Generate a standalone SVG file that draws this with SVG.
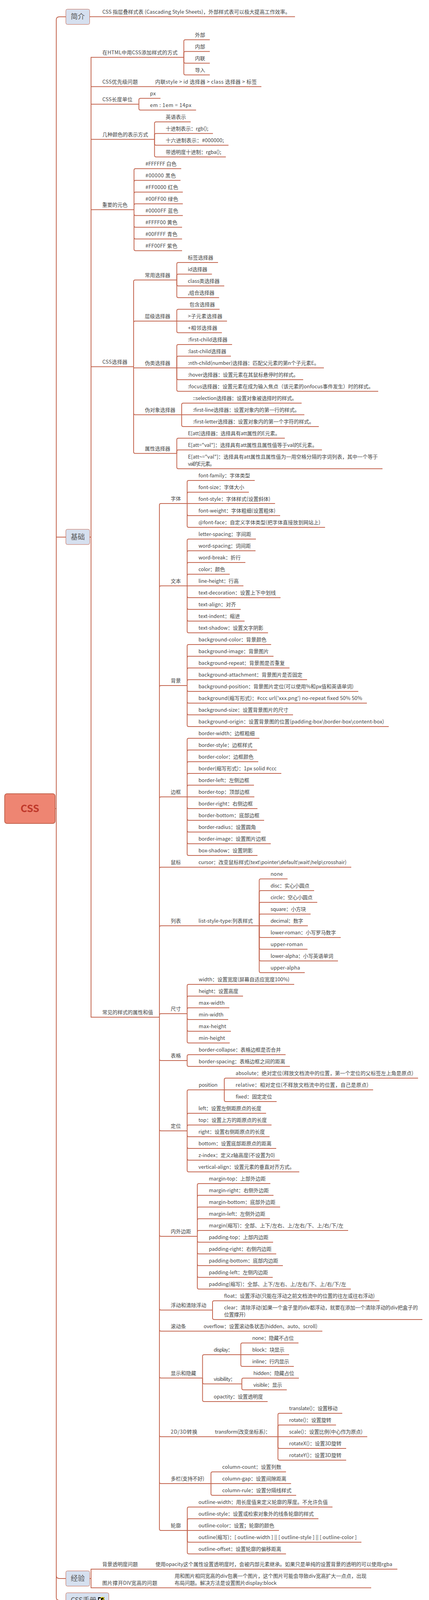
<svg xmlns="http://www.w3.org/2000/svg" width="1098" height="4133" viewBox="0 0 1098 4133">
<style>
text{font-family:"Noto Sans CJK SC","Noto Sans",sans-serif;font-size:13px;fill:#444}
.box{fill:#d6e0ef;stroke:#c3654f;stroke-width:1}
.big{font-size:18px;fill:#555}
#connectors path{fill:none;stroke:#c3654f;stroke-width:2}
</style>
<rect width="1098" height="4133" fill="#fff"/>
<g id="connectors">
<path d="M141 2070H144"/>
<path d="M144 2070V51Q144 43 152 43H168"/>
<path d="M144 2070V1375H168"/>
<path d="M144 2070V4033Q144 4041 152 4041H168"/>
<path d="M144 2070V4089Q144 4097 152 4097H168"/>
<path d="M229.5 42.7H755"/>
<path d="M229.5 1375H233"/>
<path d="M233 1375V146.7H470"/>
<path d="M233 1375V221.7H669"/>
<path d="M233 1375V266.7H355.5"/>
<path d="M233 1375V356.7H395.5"/>
<path d="M233 1375V536.7H343"/>
<path d="M233 1375V938.7H342"/>
<path d="M233 1375V2604H408"/>
<path d="M470.5 146.7V105.7Q470.5 101.7 474.5 101.7H537"/>
<path d="M470.5 146.7V135.7Q470.5 131.7 474.5 131.7H537"/>
<path d="M470.5 146.7V157.7Q470.5 161.7 474.5 161.7H537"/>
<path d="M470.5 146.7V187.7Q470.5 191.7 474.5 191.7H537"/>
<path d="M355.5 266.7V255.7Q355.5 251.7 359.5 251.7H410.7"/>
<path d="M355.5 266.7V277.7Q355.5 281.7 359.5 281.7H501.8"/>
<path d="M395.5 356.7V316Q395.5 312 399.5 312H488"/>
<path d="M395.5 356.7V345.7Q395.5 341.7 399.5 341.7H545"/>
<path d="M395.5 356.7V367.7Q395.5 371.7 399.5 371.7H584.8"/>
<path d="M395.5 356.7V397.7Q395.5 401.7 399.5 401.7H578"/>
<path d="M343 536.7V435.7Q343 431.7 347 431.7H463.8"/>
<path d="M343 536.7V465.7Q343 461.7 347 461.7H462"/>
<path d="M343 536.7V495.7Q343 491.7 347 491.7H467.9"/>
<path d="M343 536.7V525.7Q343 521.7 347 521.7H467.9"/>
<path d="M343 536.7V547.7Q343 551.7 347 551.7H467.9"/>
<path d="M343 536.7V577.7Q343 581.7 347 581.7H466"/>
<path d="M343 536.7V607.7Q343 611.7 347 611.7H466"/>
<path d="M343 536.7V637.7Q343 641.7 347 641.7H466"/>
<path d="M342 938.7V720.7Q342 716.7 346 716.7H452.5"/>
<path d="M342 938.7V826Q342 822 346 822H452.5"/>
<path d="M342 938.7V941.7H452.5"/>
<path d="M342 938.7V1057.7Q342 1061.7 346 1061.7H465"/>
<path d="M342 938.7V1156.7Q342 1160.7 346 1160.7H452.5"/>
<path d="M452.5 716.7V676Q452.5 672 456.5 672H558"/>
<path d="M452.5 716.7V705.7Q452.5 701.7 456.5 701.7H542.5"/>
<path d="M452.5 716.7V728Q452.5 732 456.5 732H574"/>
<path d="M452.5 716.7V758Q452.5 762 456.5 762H560.8"/>
<path d="M452.5 822V795.7Q452.5 791.7 456.5 791.7H562"/>
<path d="M452.5 822H581"/>
<path d="M452.5 822V847.7Q452.5 851.7 456.5 851.7H568"/>
<path d="M452.5 941.7V886Q452.5 882 456.5 882H594"/>
<path d="M452.5 941.7V915.7Q452.5 911.7 456.5 911.7H591"/>
<path d="M452.5 941.7H829"/>
<path d="M452.5 941.7V968Q452.5 972 456.5 972H776"/>
<path d="M452.5 941.7V997.7Q452.5 1001.7 456.5 1001.7H968"/>
<path d="M465 1061.7V1036Q465 1032 469 1032H772"/>
<path d="M465 1061.7H779"/>
<path d="M465 1061.7V1088Q465 1092 469 1092H816"/>
<path d="M452.5 1160.7V1125.7Q452.5 1121.7 456.5 1121.7H729"/>
<path d="M452.5 1160.7V1155.7Q452.5 1151.7 456.5 1151.7H824"/>
<path d="M452.5 1160.7V1196Q452.5 1200 456.5 1200H979"/>
<path d="M408 2604V1293Q408 1289 412 1289H479"/>
<path d="M408 2604V1503.7Q408 1499.7 412 1499.7H479"/>
<path d="M408 2604V1759Q408 1755 412 1755H479"/>
<path d="M408 2604V2044Q408 2040 412 2040H479"/>
<path d="M408 2604V2224Q408 2220 412 2220H899"/>
<path d="M408 2604V2374Q408 2370 412 2370H663.5"/>
<path d="M408 2604V2599Q408 2595 412 2595H479"/>
<path d="M408 2604V2711Q408 2715 412 2715H479"/>
<path d="M408 2604V2891Q408 2895 412 2895H479"/>
<path d="M408 2604V3161Q408 3165 412 3165H505"/>
<path d="M408 2604V3349.7Q408 3353.7 412 3353.7H544"/>
<path d="M408 2604V3403.7Q408 3407.7 412 3407.7H825"/>
<path d="M408 2604V3523.7Q408 3527.7 412 3527.7H518.4"/>
<path d="M408 2604V3674Q408 3678 412 3678H711.4"/>
<path d="M408 2604V3794Q408 3798 412 3798H540"/>
<path d="M408 2604V3914Q408 3918 412 3918H479.4"/>
<path d="M479 1289V1234Q479 1230 483 1230H652"/>
<path d="M479 1289V1264Q479 1260 483 1260H637"/>
<path d="M479 1289H704"/>
<path d="M479 1289V1316Q479 1320 483 1320H717"/>
<path d="M479 1289V1346Q479 1350 483 1350H832"/>
<path d="M479 1499.7V1384Q479 1380 483 1380H655"/>
<path d="M479 1499.7V1414Q479 1410 483 1410H654"/>
<path d="M479 1499.7V1444Q479 1440 483 1440H628"/>
<path d="M479 1499.7V1474Q479 1470 483 1470H588"/>
<path d="M479 1499.7H623"/>
<path d="M479 1499.7V1526Q479 1530 483 1530H718"/>
<path d="M479 1499.7V1556Q479 1560 483 1560H616"/>
<path d="M479 1499.7V1586Q479 1590 483 1590H626"/>
<path d="M479 1499.7V1616Q479 1620 483 1620H686"/>
<path d="M479 1755V1654Q479 1650 483 1650H694"/>
<path d="M479 1755V1684Q479 1680 483 1680H700"/>
<path d="M479 1755V1714Q479 1710 483 1710H741"/>
<path d="M479 1755V1744Q479 1740 483 1740H786"/>
<path d="M479 1755V1766Q479 1770 483 1770H917"/>
<path d="M479 1755V1796Q479 1800 483 1800H939"/>
<path d="M479 1755V1826Q479 1830 483 1830H750"/>
<path d="M479 1755V1856Q479 1860 483 1860H995"/>
<path d="M479 2040V1894Q479 1890 483 1890H664"/>
<path d="M479 2040V1924Q479 1920 483 1920H658"/>
<path d="M479 2040V1954Q479 1950 483 1950H661"/>
<path d="M479 2040V1984Q479 1980 483 1980H720"/>
<path d="M479 2040V2014Q479 2010 483 2010H650"/>
<path d="M479 2040H651"/>
<path d="M479 2040V2066Q479 2070 483 2070H659"/>
<path d="M479 2040V2096Q479 2100 483 2100H676"/>
<path d="M479 2040V2126Q479 2130 483 2130H667"/>
<path d="M479 2040V2156Q479 2160 483 2160H693"/>
<path d="M479 2040V2186Q479 2190 483 2190H659"/>
<path d="M663.5 2370V2254Q663.5 2250 667.5 2250H736"/>
<path d="M663.5 2370V2284Q663.5 2280 667.5 2280H804"/>
<path d="M663.5 2370V2314Q663.5 2310 667.5 2310H812"/>
<path d="M663.5 2370V2344Q663.5 2340 667.5 2340H795"/>
<path d="M663.5 2370H788"/>
<path d="M663.5 2370V2396Q663.5 2400 667.5 2400H872"/>
<path d="M663.5 2370V2426Q663.5 2430 667.5 2430H787"/>
<path d="M663.5 2370V2456Q663.5 2460 667.5 2460H865"/>
<path d="M663.5 2370V2486Q663.5 2490 667.5 2490H780"/>
<path d="M479 2595V2524Q479 2520 483 2520H753"/>
<path d="M479 2595V2554Q479 2550 483 2550H622"/>
<path d="M479 2595V2584Q479 2580 483 2580H587"/>
<path d="M479 2595V2606Q479 2610 483 2610H584"/>
<path d="M479 2595V2636Q479 2640 483 2640H591"/>
<path d="M479 2595V2666Q479 2670 483 2670H588"/>
<path d="M479 2715V2704Q479 2700 483 2700H731"/>
<path d="M479 2715V2726Q479 2730 483 2730H742"/>
<path d="M479 2895V2794Q479 2790 483 2790H574"/>
<path d="M479 2895V2854Q479 2850 483 2850H681"/>
<path d="M479 2895V2884Q479 2880 483 2880H695"/>
<path d="M479 2895V2906Q479 2910 483 2910H690"/>
<path d="M479 2895V2936Q479 2940 483 2940H707"/>
<path d="M479 2895V2966Q479 2970 483 2970H716"/>
<path d="M479 2895V2996Q479 3000 483 3000H766"/>
<path d="M574 2790V2764Q574 2760 578 2760H1070"/>
<path d="M574 2790H955"/>
<path d="M574 2790V2816Q574 2820 578 2820H708"/>
<path d="M505 3165V3034Q505 3030 509 3030H692"/>
<path d="M505 3165V3064Q505 3060 509 3060H700"/>
<path d="M505 3165V3094Q505 3090 509 3090H717"/>
<path d="M505 3165V3124Q505 3120 509 3120H691"/>
<path d="M505 3165V3154Q505 3150 509 3150H891"/>
<path d="M505 3165V3176Q505 3180 509 3180H699"/>
<path d="M505 3165V3206Q505 3210 509 3210H707"/>
<path d="M505 3165V3236Q505 3240 509 3240H724"/>
<path d="M505 3165V3266Q505 3270 509 3270H698"/>
<path d="M505 3165V3296Q505 3300 509 3300H898"/>
<path d="M544 3353.7V3334Q544 3330 548 3330H971"/>
<path d="M544 3353.7V3374Q544 3378 548 3378H1081"/>
<path d="M518.4 3527.7V3472Q518.4 3468 522.4 3468H616.4"/>
<path d="M518.4 3527.7V3538.7Q518.4 3542.7 522.4 3542.7H619"/>
<path d="M518.4 3527.7V3584Q518.4 3588 522.4 3588H685"/>
<path d="M616.4 3468V3442Q616.4 3438 620.4 3438H764"/>
<path d="M616.4 3468H740"/>
<path d="M616.4 3468V3494Q616.4 3498 620.4 3498H752"/>
<path d="M619 3542.7V3532Q619 3528 623 3528H765"/>
<path d="M619 3542.7V3554Q619 3558 623 3558H734"/>
<path d="M711.4 3678V3622Q711.4 3618 715.4 3618H876"/>
<path d="M711.4 3678V3652Q711.4 3648 715.4 3648H860"/>
<path d="M711.4 3678H940"/>
<path d="M711.4 3678V3704Q711.4 3708 715.4 3708H886"/>
<path d="M711.4 3678V3734Q711.4 3738 715.4 3738H886"/>
<path d="M540 3798V3772Q540 3768 544 3768H732"/>
<path d="M540 3798H745"/>
<path d="M540 3798V3824Q540 3828 544 3828H758"/>
<path d="M479.4 3918V3862Q479.4 3858 483.4 3858H851"/>
<path d="M479.4 3918V3892Q479.4 3888 483.4 3888H815"/>
<path d="M479.4 3918H714"/>
<path d="M479.4 3918V3944Q479.4 3948 483.4 3948H925"/>
<path d="M479.4 3918V3974Q479.4 3978 483.4 3978H732"/>
<path d="M230 4041H233"/>
<path d="M233 4041V4017H1017"/>
<path d="M233 4041V4064.7H950"/>
</g>
<g id="root"><rect x="12" y="2032" width="129" height="76" rx="6" fill="#ee8572" stroke="#c3654f" stroke-width="2"/><text x="76.5" y="2079" text-anchor="middle" style="font-size:26px;font-weight:700;fill:#c0392b">CSS</text></g>
<g id="intro"><rect class="box" x="168.5" y="23.5" width="61" height="39" rx="4"/><text class="big" x="181" y="49">简介</text></g>
<g id="basic"><rect class="box" x="168.5" y="1355" width="61" height="39" rx="4"/><text class="big" x="181" y="1381">基础</text></g>
<g id="exp"><rect class="box" x="168.5" y="4021.5" width="61" height="39" rx="4"/><text class="big" x="181" y="4047">经验</text></g>
<g id="manual"><rect class="box" x="168.5" y="4077.5" width="110" height="39" rx="4"/><text class="big" x="181" y="4103" textLength="66">CSS手册</text><rect x="251" y="4089" width="16" height="15" fill="#000"/><rect x="253" y="4092" width="5" height="10" fill="#fff"/><path d="M258 4092a4 3.5 0 1 1 4 4v2M262 4100v2" fill="none" stroke="#f5e020" stroke-width="2"/></g>
<g id="n1"><text x="262" y="34.7" textLength="481">CSS 指层叠样式表 (Cascading Style Sheets)，外部样式表可以极大提高工作效率。</text></g>
<g id="n2"><text x="262" y="138.7" textLength="192.5">在HTML中用CSS添加样式的方式</text></g>
<g id="n2a"><text x="499" y="93.7">外部</text></g>
<g id="n2b"><text x="499" y="123.7">内部</text></g>
<g id="n2c"><text x="499" y="153.7">内联</text></g>
<g id="n2d"><text x="499" y="183.7">导入</text></g>
<g id="n3"><text x="262" y="213.7" textLength="90.7">CSS优先级问题</text></g>
<g id="n3a"><text x="397.3" y="213.7" textLength="260">内联style &gt; id 选择器 &gt; class 选择器 &gt; 标签</text></g>
<g id="n4"><text x="262" y="258.7" textLength="77">CSS长度单位</text></g>
<g id="n4a"><text x="384" y="243.7" textLength="14.7">px</text></g>
<g id="n4b"><text x="384" y="273.7" textLength="105.8">em : 1em = 14px</text></g>
<g id="n5"><text x="262" y="348.7">几种颜色的表示方式</text></g>
<g id="n5a"><text x="424" y="304">英语表示</text></g>
<g id="n5b"><text x="424" y="333.7" textLength="109">十进制表示：rgb();</text></g>
<g id="n5c"><text x="424" y="363.7" textLength="148.8">十六进制表示：#000000;</text></g>
<g id="n5d"><text x="424" y="393.7" textLength="142">带透明度十进制：rgba();</text></g>
<g id="n6"><text x="261.6" y="528.7">重要的元色</text></g>
<g id="n6a"><text x="372.3" y="423.7" textLength="79.5">#FFFFFF 白色</text></g>
<g id="n6b"><text x="372.3" y="453.7" textLength="77.7">#00000 黑色</text></g>
<g id="n6c"><text x="372.3" y="483.7" textLength="83.6">#FF0000 红色</text></g>
<g id="n6d"><text x="372.3" y="513.7" textLength="83.6">#00FF00 绿色</text></g>
<g id="n6e"><text x="372.3" y="543.7" textLength="83.6">#0000FF 蓝色</text></g>
<g id="n6f"><text x="372.3" y="573.7" textLength="81.7">#FFFF00 黄色</text></g>
<g id="n6g"><text x="372.3" y="603.7" textLength="81.7">#00FFFF 青色</text></g>
<g id="n6h"><text x="372.3" y="633.7" textLength="81.7">#FF00FF 紫色</text></g>
<g id="n7"><text x="262" y="930.7" textLength="64">CSS选择器</text></g>
<g id="n71"><text x="370.7" y="708.7">常用选择器</text></g>
<g id="n71a"><text x="480.8" y="664">标签选择器</text></g>
<g id="n71b"><text x="480.8" y="693.7" textLength="49.7">id选择器</text></g>
<g id="n71c"><text x="480.8" y="724" textLength="81.2">class类选择器</text></g>
<g id="n71d"><text x="480.8" y="754" textLength="68">,组合选择器</text></g>
<g id="n72"><text x="370.7" y="814">层级选择器</text></g>
<g id="n72a"><text x="485" y="783.7">包含选择器</text></g>
<g id="n72b"><text x="481" y="813.7" textLength="87.9">&gt;子元素选择器</text></g>
<g id="n72c"><text x="481" y="843.7" textLength="75">+相邻选择器</text></g>
<g id="n73"><text x="370.7" y="933.7">伪类选择器</text></g>
<g id="n73a"><text x="481" y="874" textLength="101">:first-child选择器</text></g>
<g id="n73b"><text x="481" y="903.7" textLength="98">:last-child选择器</text></g>
<g id="n73c"><text x="481" y="933.7" textLength="335.9">:nth-child(number)选择器：匹配父元素的第n个子元素E。</text></g>
<g id="n73d"><text x="481" y="964" textLength="283">:hover选择器：设置元素在其鼠标悬停时的样式。</text></g>
<g id="n73e"><text x="481" y="993.7" textLength="475">:focus选择器：设置元素在成为输入焦点（该元素的onfocus事件发生）时的样式。</text></g>
<g id="n74"><text x="370.7" y="1053.7">伪对象选择器</text></g>
<g id="n74a"><text x="493.8" y="1024" textLength="266.2">::selection选择器：设置对象被选择时的样式。</text></g>
<g id="n74b"><text x="493.8" y="1053.7" textLength="273.2">:first-line选择器：设置对象内的第一行的样式。</text></g>
<g id="n74c"><text x="493.8" y="1084" textLength="310.2">:first-letter选择器：设置对象内的第一个字符的样式。</text></g>
<g id="n75"><text x="370.7" y="1152.7">属性选择器</text></g>
<g id="n75a"><text x="481" y="1113.7" textLength="236">E[att]选择器：选择具有att属性的E元素。</text></g>
<g id="n75b"><text x="481" y="1143.7" textLength="331">E[att="val"]：选择具有att属性且属性值等于val的E元素。</text></g>
<g id="n75c"><text x="481" y="1174" textLength="486">E[att~="val"]：选择具有att属性且属性值为一用空格分隔的字词列表，其中一个等于</text><text x="481" y="1192" textLength="69">val的E元素。</text></g>
<g id="n8"><text x="261.7" y="2596">常见的样式的属性和值</text></g>
<g id="font"><text x="437" y="1281">字体</text></g>
<g id="font1"><text x="508" y="1222" textLength="132">font-family：字体类型</text></g>
<g id="font2"><text x="508" y="1252" textLength="117">font-size：字体大小</text></g>
<g id="font3"><text x="508" y="1282" textLength="184">font-style：字体样式(设置斜体)</text></g>
<g id="font4"><text x="508" y="1312" textLength="197">font-weight：字体粗细(设置粗体)</text></g>
<g id="font5"><text x="508" y="1342" textLength="312">@font-face：自定义字体类型(把字体直接放到网站上)</text></g>
<g id="txt"><text x="437" y="1491.7">文本</text></g>
<g id="txt1"><text x="508" y="1372" textLength="135">letter-spacing：字间距</text></g>
<g id="txt2"><text x="508" y="1402" textLength="134">word-spacing：词间距</text></g>
<g id="txt3"><text x="508" y="1432" textLength="108">word-break：折行</text></g>
<g id="txt4"><text x="508" y="1462" textLength="68">color：颜色</text></g>
<g id="txt5"><text x="508" y="1492" textLength="103">line-height：行高</text></g>
<g id="txt6"><text x="508" y="1522" textLength="198">text-decoration：设置上下中划线</text></g>
<g id="txt7"><text x="508" y="1552" textLength="96">text-align：对齐</text></g>
<g id="txt8"><text x="508" y="1582" textLength="106">text-indent：缩进</text></g>
<g id="txt9"><text x="508" y="1612" textLength="166">text-shadow：设置文字阴影</text></g>
<g id="bg"><text x="437" y="1747">背景</text></g>
<g id="bg1"><text x="508" y="1642" textLength="174">background-color：背景颜色</text></g>
<g id="bg2"><text x="508" y="1672" textLength="180">background-image：背景图片</text></g>
<g id="bg3"><text x="508" y="1702" textLength="221">background-repeat：背景图是否重复</text></g>
<g id="bg4"><text x="508" y="1732" textLength="266">background-attachment：背景图片是否固定</text></g>
<g id="bg5"><text x="508" y="1762" textLength="397">background-position：背景图片定位(可以使用%和px值和英语单词)</text></g>
<g id="bg6"><text x="508" y="1792" textLength="419">background(缩写形式)：#ccc url('xxx.png') no-repeat fixed 50% 50%</text></g>
<g id="bg7"><text x="508" y="1822" textLength="230">background-size：设置背景图片的尺寸</text></g>
<g id="bg8"><text x="508" y="1852" textLength="475">background-origin：设置背景图的位置(padding-box\border-box\content-box)</text></g>
<g id="bd"><text x="437" y="2032">边框</text></g>
<g id="bd1"><text x="508" y="1882" textLength="144">border-width：边框粗细</text></g>
<g id="bd2"><text x="508" y="1912" textLength="138">border-style：边框样式</text></g>
<g id="bd3"><text x="508" y="1942" textLength="141">border-color：边框颜色</text></g>
<g id="bd4"><text x="508" y="1972" textLength="200">border(缩写形式)：1px solid #ccc</text></g>
<g id="bd5"><text x="508" y="2002" textLength="130">border-left：左侧边框</text></g>
<g id="bd6"><text x="508" y="2032" textLength="131">border-top：顶部边框</text></g>
<g id="bd7"><text x="508" y="2062" textLength="139">border-right：右侧边框</text></g>
<g id="bd8"><text x="508" y="2092" textLength="156">border-bottom：底部边框</text></g>
<g id="bd9"><text x="508" y="2122" textLength="147">border-radius：设置圆角</text></g>
<g id="bd10"><text x="508" y="2152" textLength="173">border-image：设置图片边框</text></g>
<g id="bd11"><text x="508" y="2182" textLength="139">box-shadow：设置阴影</text></g>
<g id="ms"><text x="437" y="2212">鼠标</text></g>
<g id="ms1"><text x="508" y="2212" textLength="379">cursor：改变鼠标样式(text\pointer\default\wait\help\crosshair)</text></g>
<g id="li"><text x="437" y="2362">列表</text></g>
<g id="li0"><text x="508" y="2362" textLength="139">list-style-type:列表样式</text></g>
<g id="li1"><text x="692.5" y="2242" textLength="31.5">none</text></g>
<g id="li2"><text x="692.5" y="2272" textLength="99.5">disc：实心小圆点</text></g>
<g id="li3"><text x="692.5" y="2302" textLength="107.5">circle：空心小圆点</text></g>
<g id="li4"><text x="692.5" y="2332" textLength="90.5">square：小方块</text></g>
<g id="li5"><text x="692.5" y="2362" textLength="83.5">decimal：数字</text></g>
<g id="li6"><text x="692.5" y="2392" textLength="167.5">lower-roman：小写罗马数字</text></g>
<g id="li7"><text x="692.5" y="2422" textLength="82.5">upper-roman</text></g>
<g id="li8"><text x="692.5" y="2452" textLength="160.5">lower-alpha：小写英语单词</text></g>
<g id="li9"><text x="692.5" y="2482" textLength="75.5">upper-alpha</text></g>
<g id="sz"><text x="437" y="2587">尺寸</text></g>
<g id="sz1"><text x="508.6" y="2512" textLength="232.4">width：设置宽度(屏幕自适应宽度100%)</text></g>
<g id="sz2"><text x="508.6" y="2542" textLength="101.4">height：设置高度</text></g>
<g id="sz3"><text x="508.6" y="2572" textLength="66.4">max-width</text></g>
<g id="sz4"><text x="508.6" y="2602" textLength="63.4">min-width</text></g>
<g id="sz5"><text x="508.6" y="2632" textLength="70.4">max-height</text></g>
<g id="sz6"><text x="508.6" y="2662" textLength="67.4">min-height</text></g>
<g id="tb"><text x="437" y="2707">表格</text></g>
<g id="tb1"><text x="508.6" y="2692" textLength="210.4">border-collapse：表格边框是否合并</text></g>
<g id="tb2"><text x="508.6" y="2722" textLength="221.4">border-spacing：表格边框之间的距离</text></g>
<g id="pos"><text x="437" y="2887">定位</text></g>
<g id="pos0"><text x="508.6" y="2782" textLength="48">position</text></g>
<g id="pos0a"><text x="603" y="2752" textLength="455">absolute：绝对定位(释放文档流中的位置，第一个定位的父标签左上角是原点)</text></g>
<g id="pos0b"><text x="603" y="2782" textLength="340">relative：相对定位(不释放文档流中的位置，自己是原点)</text></g>
<g id="pos0c"><text x="603" y="2812" textLength="93">fixed：固定定位</text></g>
<g id="pos1"><text x="508" y="2842" textLength="161">left：设置左侧距原点的长度</text></g>
<g id="pos2"><text x="508" y="2872" textLength="175">top：设置上方的距原点的长度</text></g>
<g id="pos3"><text x="508" y="2902" textLength="170">right：设置右侧距原点的长度</text></g>
<g id="pos4"><text x="508" y="2932" textLength="187">bottom：设置底部距原点的距离</text></g>
<g id="pos5"><text x="508" y="2962" textLength="196">z-index：定义z轴高度(不设置为0)</text></g>
<g id="pos6"><text x="508" y="2992" textLength="246">vertical-align：设置元素的垂直对齐方式。</text></g>
<g id="mp"><text x="437" y="3157">内外边距</text></g>
<g id="mp1"><text x="534.5" y="3022" textLength="145.5">margin-top：上部外边距</text></g>
<g id="mp2"><text x="534.5" y="3052" textLength="153.5">margin-right：右侧外边距</text></g>
<g id="mp3"><text x="534.5" y="3082" textLength="170.5">margin-bottom：底部外边距</text></g>
<g id="mp4"><text x="534.5" y="3112" textLength="144.5">margin-left：左侧外边距</text></g>
<g id="mp5"><text x="534.5" y="3142" textLength="344.5">margin(缩写)：全部、上下/左右、上/左右/下、上/右/下/左</text></g>
<g id="mp6"><text x="534.5" y="3172" textLength="152.5">padding-top：上部内边距</text></g>
<g id="mp7"><text x="534.5" y="3202" textLength="160.5">padding-right：右侧内边距</text></g>
<g id="mp8"><text x="534.5" y="3232" textLength="177.5">padding-bottom：底部内边距</text></g>
<g id="mp9"><text x="534.5" y="3262" textLength="151.5">padding-left：左侧内边距</text></g>
<g id="mp10"><text x="534.5" y="3292" textLength="351.5">padding(缩写)：全部、上下/左右、上/左右/下、上/右/下/左</text></g>
<g id="fl"><text x="437" y="3345.7">浮动和清除浮动</text></g>
<g id="fl1"><text x="573.4" y="3322" textLength="385.6">float：设置浮动(只能在浮动之前文档流中的位置的往左或往右浮动)</text></g>
<g id="fl2"><text x="573.4" y="3352" textLength="496">clear：清除浮动(如果一个盒子里的div都浮动，就要在添加一个清除浮动的div把盒子的</text><text x="573.4" y="3370" textLength="55">位置撑开)</text></g>
<g id="sc"><text x="437" y="3399.7">滚动条</text></g>
<g id="sc1"><text x="521.3" y="3399.7" textLength="291">overflow：设置滚动条状态(hidden、auto、scroll)</text></g>
<g id="ds"><text x="437" y="3519.7">显示和隐藏</text></g>
<g id="ds1"><text x="547" y="3460" textLength="49">display：</text></g>
<g id="ds1a"><text x="645.6" y="3430" textLength="106.4">none：隐藏不占位</text></g>
<g id="ds1b"><text x="645.6" y="3460" textLength="82.4">block：块显示</text></g>
<g id="ds1c"><text x="645.6" y="3490" textLength="94.4">inline：行内显示</text></g>
<g id="ds2"><text x="547" y="3534.7" textLength="55.5">visibility：</text></g>
<g id="ds2a"><text x="648.5" y="3520" textLength="104.5">hidden：隐藏占位</text></g>
<g id="ds2b"><text x="648.5" y="3550" textLength="73.5">visible：显示</text></g>
<g id="ds3"><text x="547" y="3580" textLength="126">opactity：设置透明度</text></g>
<g id="tf"><text x="437" y="3670" textLength="68">2D/3D转换</text></g>
<g id="tf0"><text x="550" y="3670" textLength="142">transform(改变坐标系)：</text></g>
<g id="tf1"><text x="740" y="3610" textLength="124">translate()：设置移动</text></g>
<g id="tf2"><text x="740" y="3640" textLength="108">rotate()：设置旋转</text></g>
<g id="tf3"><text x="740" y="3670" textLength="188">scale()：设置比例(中心作为原点)</text></g>
<g id="tf4"><text x="740" y="3700" textLength="134">rotateX()：设置3D旋转</text></g>
<g id="tf5"><text x="740" y="3730" textLength="134">rotateY()：设置3D旋转</text></g>
<g id="cl"><text x="437" y="3790" textLength="86">多栏(支持不好)</text></g>
<g id="cl1"><text x="568.8" y="3760" textLength="151.2">column-count：设置列数</text></g>
<g id="cl2"><text x="568.8" y="3790" textLength="164.2">column-gap：设置间隙距离</text></g>
<g id="cl3"><text x="568.8" y="3820" textLength="177.2">column-rule：设置分隔线样式</text></g>
<g id="ol"><text x="437" y="3910">轮廓</text></g>
<g id="ol1"><text x="508" y="3850" textLength="331">outline-width：用长度值来定义轮廓的厚度。不允许负值</text></g>
<g id="ol2"><text x="508" y="3880" textLength="295">outline-style：设置或检索对象外的线条轮廓的样式</text></g>
<g id="ol3"><text x="508" y="3910" textLength="194">outline-color：设置；轮廓的颜色</text></g>
<g id="ol4"><text x="508" y="3940" textLength="405">outline(缩写)：[ outline-width ] || [ outline-style ] || [ outline-color ]</text></g>
<g id="ol5"><text x="508" y="3970" textLength="212">outline-offset：设置轮廓的偏移距离</text></g>
<g id="e1"><text x="261.7" y="4009">背景透明度问题</text></g>
<g id="e1a"><text x="398" y="4009" textLength="606">使用opacity这个属性设置透明度时，会被内部元素继承。如果只是单纯的设置背景的透明的可以使用rgba</text></g>
<g id="e2"><text x="261.7" y="4056.7" textLength="140.7">图片撑开DIV宽高的问题</text></g>
<g id="e2a"><text x="447" y="4038.7" textLength="491">用和图片相同宽高的div包裹一个图片，这个图片可能会导致div宽高扩大一点点，出现</text><text x="447" y="4056.7" textLength="261">布局问题。解决方法是设置图片display:block</text></g>
</svg>
